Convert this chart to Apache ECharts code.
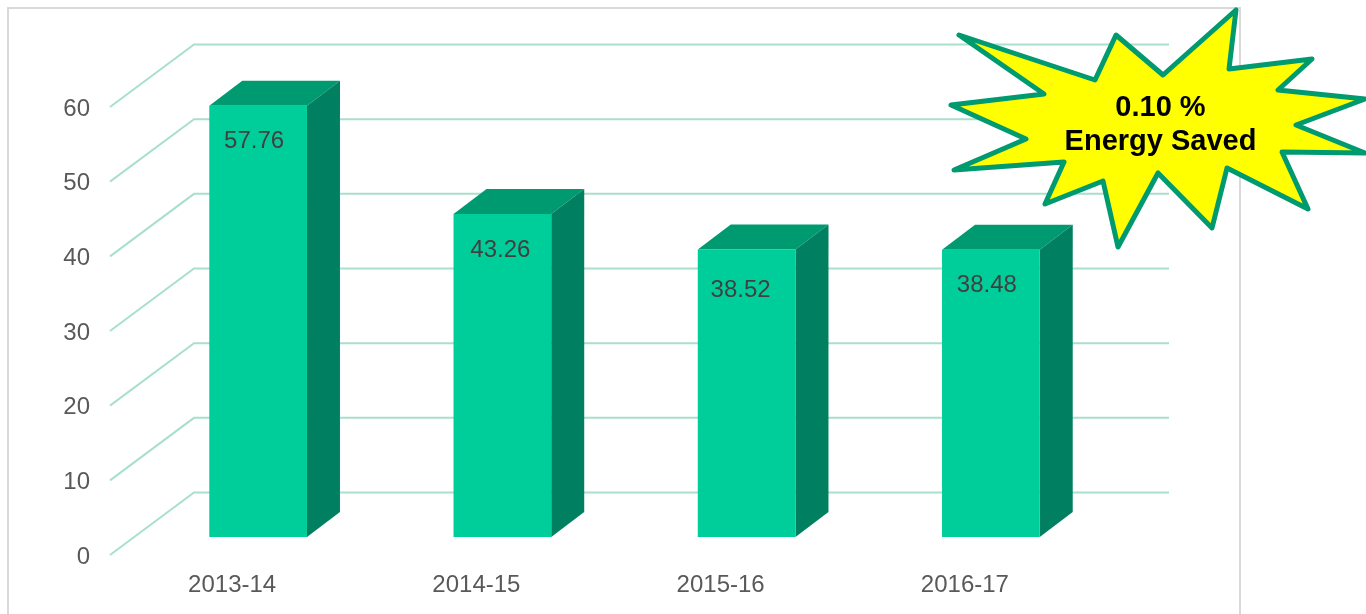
<!DOCTYPE html>
<html>
<head>
<meta charset="utf-8">
<title>Energy Saved</title>
<script src="https://cdn.jsdelivr.net/npm/echarts@6/dist/echarts.min.js"></script>
<style>
    html, body { margin: 0; padding: 0; background: #fff; overflow: hidden; }
    #chart { width: 1366px; height: 614px; }
</style>
</head>
<body>
<div id="chart"></div>
<script>
const categories = ['2013-14', '2014-15', '2015-16', '2016-17'];
const energyValues = [57.76, 43.26, 38.52, 38.48];
const yTicks = [0, 10, 20, 30, 40, 50, 60];
const calloutLines = ['0.10 %', 'Energy Saved'];

// excel style 3d: floor depth and the depth of a bar, in px
const WALL_DX = 84, WALL_DY = 62.5;
const WALL_END_TRIM = 2;
const FLOOR_DX = 26, FLOOR_DY = 18;
const BAR_DX = 33, BAR_DY = 25;

// the data labels in the picture are hand placed, not centred
const labelNudge = [[-4, 36], [-2, 36], [-6, 41], [-4, 36]];

const starPoints = [
    [959, 35], [1095, 80], [1116, 35], [1163, 75], [1236, 10], [1229, 69],
    [1312, 59], [1278, 90], [1365, 99], [1296, 125], [1365, 153], [1282, 152],
    [1308, 209], [1227, 168], [1212, 228], [1158, 173], [1118, 247], [1103, 181],
    [1045, 204], [1064, 162], [954, 170], [1026, 139], [951, 105], [1044, 94]
];

const chart = echarts.init(document.getElementById('chart'));

const renderGridLine = (params, api) => {
    const y = api.coord([0, api.value(1)])[1];
    const x = params.coordSys.x;
    const right = x + params.coordSys.width - WALL_END_TRIM;
    return {
        type: 'polyline',
        shape: {
            points: [[x, y], [x + WALL_DX, y - WALL_DY], [right + WALL_DX, y - WALL_DY]]
        },
        style: { fill: 'none', stroke: '#A9E0CB', lineWidth: 2 }
    };
};

const renderBar = (params, api) => {
    const top = api.coord([api.value(0), api.value(1)]);
    const base = api.coord([api.value(0), 0]);
    const w = api.size([1, 0])[0] * 0.4;
    const x0 = top[0] - w / 2 + FLOOR_DX;
    const x1 = x0 + w;
    const yTop = top[1] - FLOOR_DY;
    const yBase = base[1] - FLOOR_DY;
    const nudge = labelNudge[params.dataIndex];
    return {
        type: 'group',
        children: [
            {
                type: 'polygon',
                shape: { points: [[x0, yTop], [x0 + BAR_DX, yTop - BAR_DY], [x1 + BAR_DX, yTop - BAR_DY], [x1, yTop]] },
                style: { fill: '#009A70' }
            },
            {
                type: 'polygon',
                shape: { points: [[x1, yTop], [x1 + BAR_DX, yTop - BAR_DY], [x1 + BAR_DX, yBase - BAR_DY], [x1, yBase]] },
                style: { fill: '#008060' }
            },
            {
                type: 'rect',
                shape: { x: x0, y: yTop, width: w, height: yBase - yTop },
                style: { fill: '#00CE9A' }
            },
            {
                type: 'text',
                style: {
                    x: x0 + w / 2 + nudge[0],
                    y: yTop + nudge[1],
                    text: api.value(1).toFixed(2),
                    fill: '#404040',
                    font: '24px "Liberation Sans", Arial, sans-serif',
                    align: 'center',
                    verticalAlign: 'middle'
                }
            }
        ]
    };
};

chart.setOption({
    animation: false,
    backgroundColor: '#fff',
    grid: { left: 110, top: 107, width: 977, height: 448 },
    xAxis: {
        type: 'category',
        data: categories,
        axisLine: { show: false },
        axisTick: { show: false },
        axisLabel: {
            margin: 18,
            color: '#595959',
            fontSize: 24,
            fontFamily: '"Liberation Sans", Arial, sans-serif'
        }
    },
    yAxis: {
        type: 'value',
        min: 0,
        max: 60,
        interval: 10,
        axisLine: { show: false },
        axisTick: { show: false },
        splitLine: { show: false },
        axisLabel: {
            margin: 20,
            formatter: '{tick|{value}}',
            rich: {
                // labels sit a little under their tick in the picture
                tick: {
                    padding: [4, 0, 0, 0],
                    color: '#595959',
                    fontSize: 24,
                    fontFamily: '"Liberation Sans", Arial, sans-serif'
                }
            }
        }
    },
    series: [
        {
            type: 'custom',
            name: 'grid',
            silent: true,
            clip: false,
            z: 1,
            renderItem: renderGridLine,
            data: yTicks.map((v) => [0, v])
        },
        {
            type: 'custom',
            name: 'energy',
            silent: true,
            clip: false,
            z: 2,
            renderItem: renderBar,
            data: energyValues.map((v, i) => [i, v])
        }
    ],
    graphic: [
        {
            type: 'rect',
            silent: true,
            z: 0,
            shape: { x: 8, y: 8, width: 1232, height: 700 },
            style: { fill: 'none', stroke: '#D9D9D9', lineWidth: 2 }
        },
        {
            type: 'polygon',
            silent: true,
            z: 10,
            shape: { points: starPoints },
            style: { fill: '#FFFF00', stroke: '#009A70', lineWidth: 5, lineJoin: 'round' }
        },
        {
            type: 'text',
            silent: true,
            z: 11,
            x: 1160.5,
            y: 125,
            style: {
                text: calloutLines.join('\n'),
                fill: '#000',
                font: 'bold 29px "Liberation Sans", Arial, sans-serif',
                lineHeight: 34,
                align: 'center',
                verticalAlign: 'middle'
            }
        }
    ]
});
</script>
</body>
</html>
